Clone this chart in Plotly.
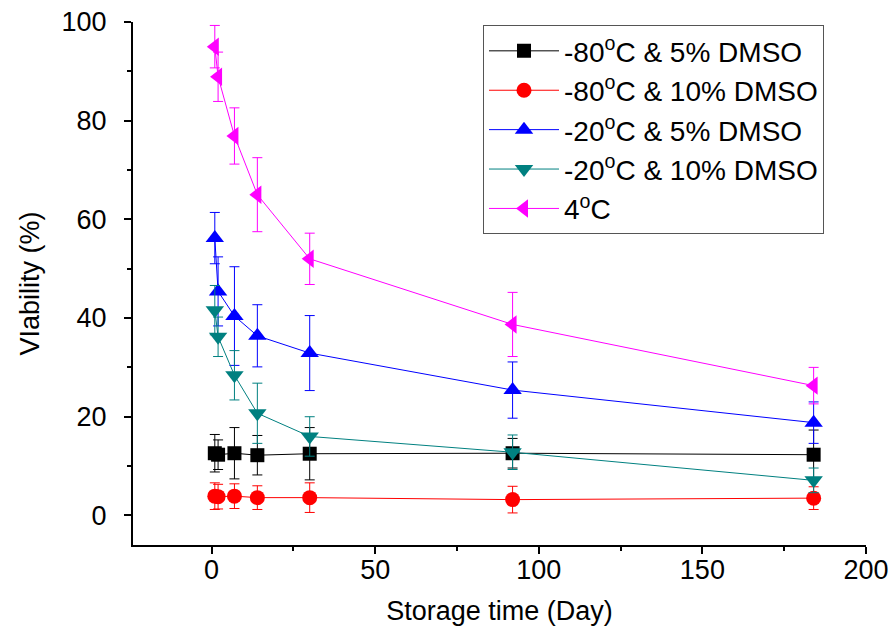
import plotly.graph_objects as go

days = [1, 2, 7, 14, 30, 92, 184]

names = ["-80<sup>o</sup>C & 5% DMSO", "-80<sup>o</sup>C & 10% DMSO",
         "-20<sup>o</sup>C & 5% DMSO", "-20<sup>o</sup>C & 10% DMSO", "4<sup>o</sup>C"]

v_80_5 = [12.6, 12.3, 12.6, 12.2, 12.5, 12.6, 12.3]
e_80_5 = [3.8, 3.0, 5.2, 4.0, 5.3, 3.0, 5.0]
v_80_10 = [3.9, 3.8, 3.9, 3.6, 3.6, 3.2, 3.5]
e_80_10 = [2.7, 2.5, 2.5, 2.4, 3.0, 2.7, 2.3]
v_20_5 = [56.2, 45.4, 40.4, 36.4, 32.9, 25.4, 18.8]
e_20_5 = [5.2, 7.0, 10.0, 6.3, 7.6, 5.7, 4.2]
v_20_10 = [41.6, 36.2, 28.4, 20.7, 16.0, 12.8, 7.1]
e_20_10 = [5.0, 4.0, 5.0, 6.1, 4.0, 3.5, 2.5]
v_4 = [95.0, 88.9, 76.9, 65.0, 52.0, 38.7, 26.3]
e_4 = [4.3, 5.0, 5.7, 7.5, 5.2, 6.5, 3.7]

series = [v_80_5, v_80_10, v_20_5, v_20_10, v_4]
errors = [e_80_5, e_80_10, e_20_5, e_20_10, e_4]
colors = ["#000000", "#FF0000", "#0000FF", "#008080", "#FF00FF"]
symbols = ["square", "circle", "triangle-up", "triangle-down", "triangle-left"]
sizes = [14, 15, 16, 16, 16]

FONT = "Liberation Sans, Arial"

fig = go.Figure()
for nm, v, e, c, s, sz in zip(names, series, errors, colors, symbols, sizes):
    fig.add_trace(go.Scatter(
        x=days, y=v, name=nm, mode="lines+markers",
        line=dict(color=c, width=1),
        marker=dict(symbol=s, size=sz, color=c),
        error_y=dict(type="data", array=e, visible=True, color=c, thickness=1, width=5),
    ))

axis_common = dict(
    showline=True, linecolor="black", linewidth=2, mirror=False,
    ticks="outside", ticklen=7, tickwidth=2, tickcolor="black",
    showgrid=False, zeroline=False, automargin=False,
    tickfont=dict(family=FONT, size=27, color="black"),
)

fig.update_xaxes(
    range=[-24, 200], tickvals=[0, 50, 100, 150, 200],
    minor=dict(ticks="outside", ticklen=4, tickwidth=2, tickcolor="black", dtick=25, tick0=0),
    title=dict(text="Storage time (Day)", font=dict(family=FONT, size=27, color="black"), standoff=17),
    ticklabelstandoff=-7,
    **axis_common,
)
fig.update_yaxes(
    range=[-6, 100], tickvals=[0, 20, 40, 60, 80, 100],
    minor=dict(ticks="outside", ticklen=4, tickwidth=2, tickcolor="black", dtick=10, tick0=0),
    title=dict(text="VIability (%)", font=dict(family=FONT, size=27, color="black"), standoff=14),
    ticklabelstandoff=12,
    **axis_common,
)

fig.update_layout(
    width=890, height=637,
    margin=dict(l=133, r=24, t=22, b=92),
    plot_bgcolor="white", paper_bgcolor="white",
    font=dict(family=FONT, color="black"),
    legend=dict(
        x=0.4775, y=0.994, xanchor="left", yanchor="top",
        bordercolor="#555555", borderwidth=1, bgcolor="white",
        font=dict(family=FONT, size=28, color="black"),
        itemwidth=70,
    ),
    showlegend=True,
)

fig.write_html("out.html")
